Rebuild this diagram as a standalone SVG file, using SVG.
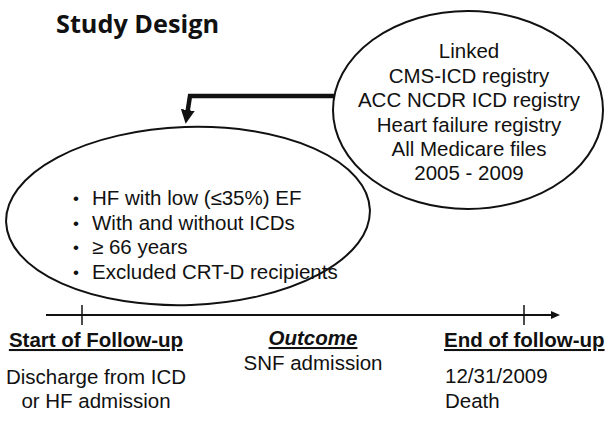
<svg xmlns="http://www.w3.org/2000/svg" width="605" height="427" viewBox="0 0 605 427">
<style>
  .t { font-family: "Liberation Sans", Arial, sans-serif; font-size: 20.5px; fill: #111; }
  .b { font-weight: bold; text-decoration: underline; }
  .shape { fill: none; stroke: #111; stroke-width: 2; }
  .c { text-anchor: middle; }
  .dot { font-size: 17px; }
</style>
<defs>
  <marker id="bigHead" markerUnits="userSpaceOnUse" markerWidth="14" markerHeight="14" refX="2" refY="7" orient="auto">
    <path d="M0,0 L14,7 L0,14 Z" fill="#111"/>
  </marker>
  <marker id="smallHead" markerUnits="userSpaceOnUse" markerWidth="9" markerHeight="8" refX="1" refY="4" orient="auto">
    <path d="M0,0 L9,4 L0,8 Z" fill="#111"/>
  </marker>
</defs>
<rect width="605" height="427" fill="#fff"/>
<text x="56" y="33" font-family="'Open Sans', 'Liberation Sans', sans-serif" font-weight="bold" font-size="25" fill="#111" textLength="163" lengthAdjust="spacingAndGlyphs">Study Design</text>

<g id="connectors">
  <path d="M334,96 H190 L187.5,112" fill="none" stroke="#111" stroke-width="4.5" marker-end="url(#bigHead)"/>
  <path d="M46,315 H552" fill="none" stroke="#111" stroke-width="2" marker-end="url(#smallHead)"/>
  <line x1="82" y1="305" x2="82" y2="325" stroke="#111" stroke-width="1.5"/>
  <line x1="524" y1="305" x2="524" y2="325" stroke="#111" stroke-width="1.5"/>
</g>

<g id="sources">
  <ellipse class="shape" cx="468" cy="110" rx="135" ry="99"/>
  <text class="t c" x="469" y="58">Linked</text>
  <text class="t c" x="469" y="83">CMS-ICD registry</text>
  <text class="t c" x="469" y="107">ACC NCDR ICD registry</text>
  <text class="t c" x="469" y="132">Heart failure registry</text>
  <text class="t c" x="469" y="156">All Medicare files</text>
  <text class="t c" x="469" y="180">2005 - 2009</text>
</g>

<g id="cohort">
  <ellipse class="shape" cx="188" cy="216" rx="182" ry="89" transform="rotate(-2 188 216)"/>
  <text class="t dot" x="73" y="204">•</text>
  <text class="t" x="92" y="205">HF with low (≤35%) EF</text>
  <text class="t dot" x="73" y="228.5">•</text>
  <text class="t" x="92" y="229.5">With and without ICDs</text>
  <text class="t dot" x="73" y="253">•</text>
  <text class="t" x="92" y="254">≥ 66 years</text>
  <text class="t dot" x="73" y="277.5">•</text>
  <text class="t" x="92" y="278.5">Excluded CRT-D recipients</text>
</g>

<g id="start">
  <text class="t b c" x="96" y="347">Start of Follow-up</text>
  <text class="t c" x="96" y="384">Discharge from ICD</text>
  <text class="t c" x="96" y="408">or HF admission</text>
</g>

<g id="outcome">
  <text class="t b c" x="313" y="345" font-style="italic">Outcome</text>
  <text class="t c" x="313" y="370">SNF admission</text>
</g>

<g id="end">
  <text class="t b" x="444" y="347">End of follow-up</text>
  <text class="t" x="445" y="383">12/31/2009</text>
  <text class="t" x="445" y="408">Death</text>
</g>
</svg>
